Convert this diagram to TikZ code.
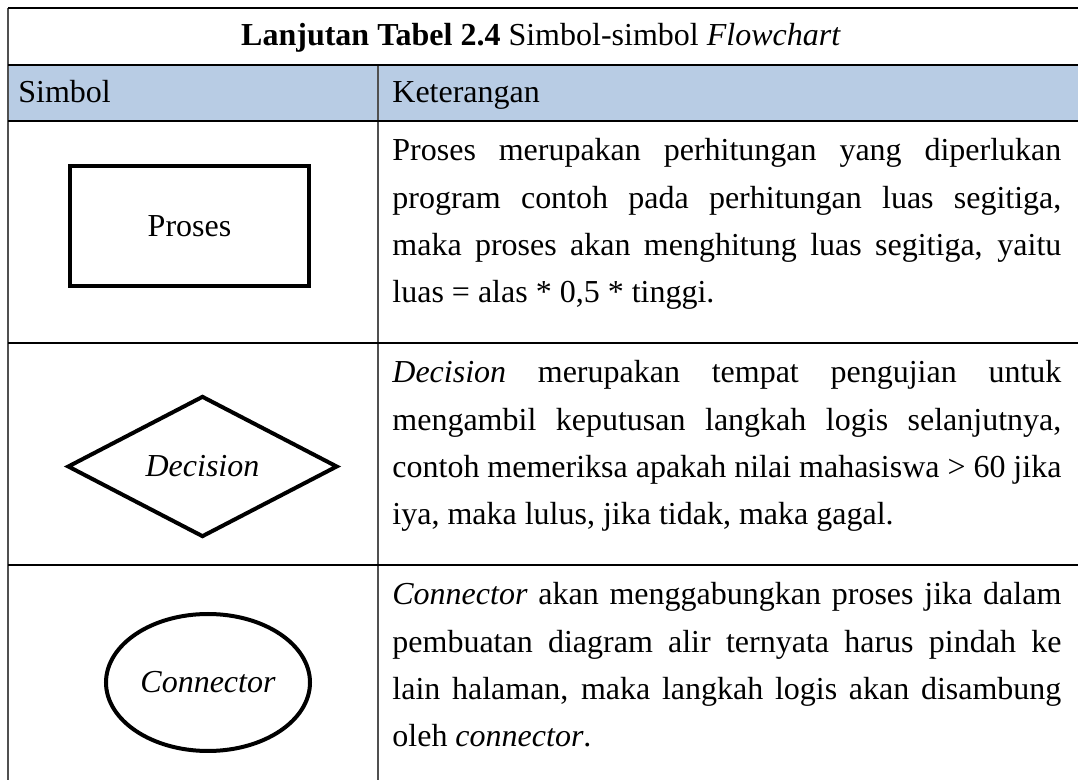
\documentclass[tikz,border=0pt]{standalone}
\usepackage{fontspec}
\setmainfont{Liberation Serif}
\usetikzlibrary{shapes.geometric}

\definecolor{kepala}{RGB}{184,204,228}
\definecolor{garis}{RGB}{80,80,80}

\begin{document}
\begin{tikzpicture}[x=0.5pt,y=-0.5pt,
  font=\fontsize{16pt}{19pt}\selectfont,
  simbol/.style={draw=black,line width=2pt,inner sep=0pt},
  kolom/.style={anchor=base west,inner sep=0pt},
  keterangan/.style={anchor=base west,inner sep=0pt,text width=334.5pt,align=justify,
    font=\fontsize{16pt}{23.65pt}\selectfont}]
\useasboundingbox (0,0) rectangle (1078,780);

% baris kepala
\fill[kepala] (8,65) rectangle (1078,121);

% garis tabel
\draw[garis,line width=0.75pt] (8,8) -- (8,780);
\draw[garis,line width=0.75pt] (378,65) -- (378,780);
\draw[black,line width=0.75pt] (8,8) -- (1078,8);
\draw[black,line width=0.75pt] (8,65) -- (1078,65);
\draw[black,line width=0.75pt] (8,121) -- (1078,121);
\draw[black,line width=0.75pt] (8,343) -- (1078,343);
\draw[black,line width=0.75pt] (8,565) -- (1078,565);

% judul
\node[anchor=base] (judul) at (541,46) {\textbf{Lanjutan Tabel 2.4} Simbol-simbol \textit{Flowchart}};
\node[kolom] (simbol) at (18,103) {Simbol};
\node[kolom] (ket) at (392,103) {Keterangan};

% simbol-simbol
\node[simbol,rectangle,minimum width=119.5pt,minimum height=60pt] (proses) at (189.5,226) {Proses};
\node[simbol,diamond,minimum width=135pt,minimum height=70.5pt] (decision) at (202.5,466.5) {\textit{Decision}};
\node[simbol,ellipse,minimum width=102pt,minimum height=68.5pt] (connector) at (208,682.5) {\textit{Connector}};

% keterangan
\node[keterangan] (ketproses) at (392,161) {Proses merupakan perhitungan yang diperlukan\linebreak
program contoh pada perhitungan luas segitiga,\linebreak
maka proses akan menghitung luas segitiga, yaitu\linebreak
luas = alas * 0,5 * tinggi.};
\node[keterangan] (ketdecision) at (392,383) {\textit{Decision} merupakan tempat pengujian untuk\linebreak
mengambil keputusan langkah logis selanjutnya,\linebreak
contoh memeriksa apakah nilai mahasiswa > 60 jika\linebreak
iya, maka lulus, jika tidak, maka gagal.};
\node[keterangan] (ketconnector) at (392,605) {\textit{Connector} akan menggabungkan proses jika dalam\linebreak
pembuatan diagram alir ternyata harus pindah ke\linebreak
lain halaman, maka langkah logis akan disambung\linebreak
oleh \textit{connector}.};
\end{tikzpicture}
\end{document}
